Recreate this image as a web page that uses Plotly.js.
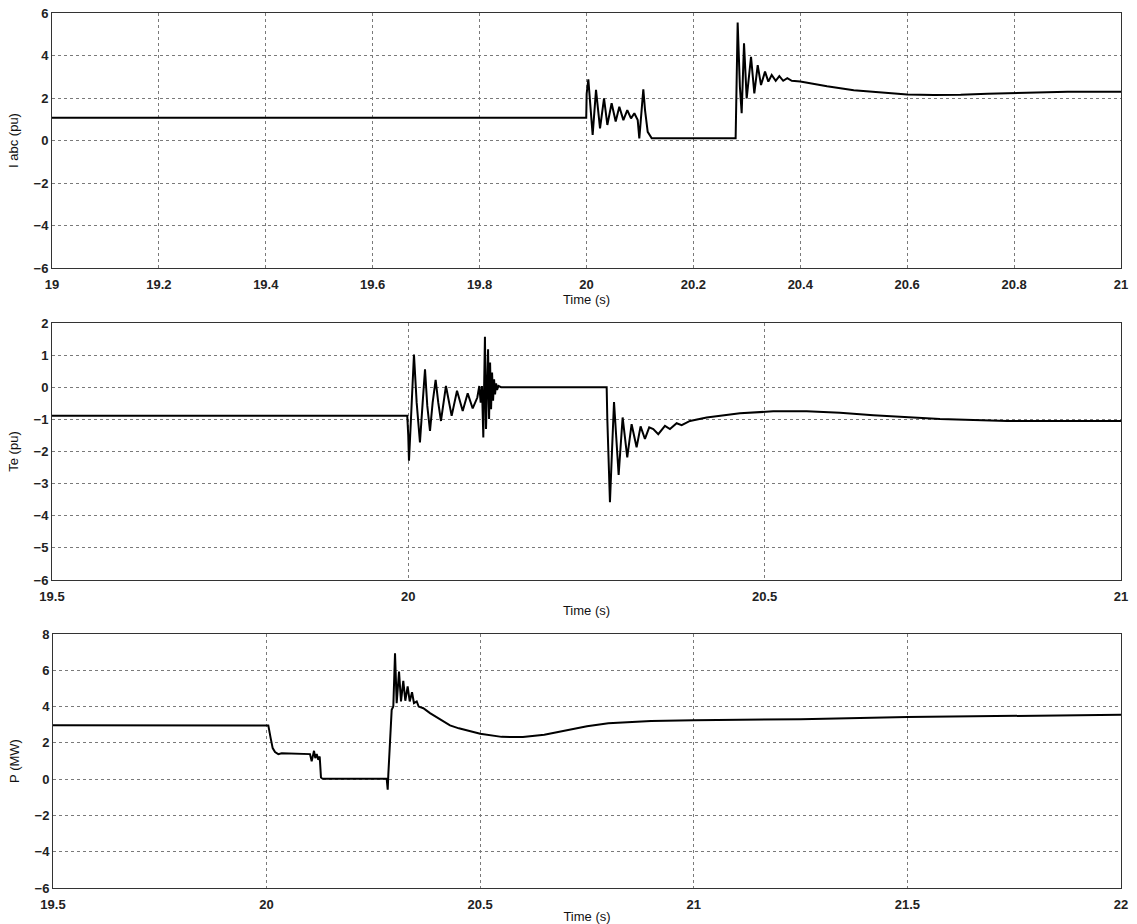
<!DOCTYPE html>
<html>
<head>
<meta charset="utf-8">
<script src="https://cdn.plot.ly/plotly-3.0.1.min.js"></script>
<style>html,body{margin:0;padding:0;background:#fff;}#chart{width:1137px;height:924px;}</style>
</head>
<body>
<div id="chart"></div>
<script>
// ---- Panel 1: phase current magnitude I abc (pu) ----
const iTime = [19, 19.9995, 20.0003, 20.0034, 20.0115, 20.0178, 20.0253, 20.0328, 20.039, 20.047, 20.0546, 20.0614, 20.069, 20.0763, 20.0833, 20.0895, 20.0958, 20.0988, 20.1063, 20.1095, 20.1145, 20.122,
  20.279, 20.2800, 20.2828, 20.287, 20.2903, 20.2947, 20.2997, 20.3078, 20.314, 20.3203, 20.3265, 20.334, 20.3402, 20.3465, 20.354, 20.3608, 20.368, 20.3757, 20.384,
  20.40, 20.437, 20.45, 20.5, 20.55, 20.6, 20.65, 20.7, 20.75, 20.8, 20.85, 20.9, 21.0];
const iValue = [1.07, 1.07, 2.2, 2.88, 0.26, 2.38, 0.57, 1.98, 0.73, 1.75, 0.89, 1.59, 0.96, 1.43, 1.04, 1.28, 0.96, 0.1, 2.41, 1.43, 0.41, 0.1,
  0.1, 2.06, 5.55, 2.53, 1.28, 4.57, 1.98, 3.94, 2.22, 3.55, 2.61, 3.24, 2.77, 3.08, 2.81, 3.03, 2.81, 2.93, 2.81,
  2.78, 2.62, 2.55, 2.37, 2.25, 2.16, 2.14, 2.15, 2.2, 2.24, 2.28, 2.29, 2.29];

// ---- Panel 2: electromagnetic torque Te (pu) ----
const teTime = [19.5, 19.9985, 19.9999, 20.0009, 20.0037, 20.0079, 20.0117, 20.0163, 20.0201, 20.0234, 20.0266, 20.0304, 20.0341, 20.0383, 20.042, 20.0458, 20.0528, 20.0608, 20.0683, 20.0763, 20.0833, 20.0903, 20.0968, 20.0996, 20.1015, 20.1033, 20.1052, 20.1075, 20.109,
  20.1119, 20.1133, 20.1147, 20.1161, 20.1175, 20.1189, 20.1203, 20.1217, 20.1231, 20.1245, 20.1264, 20.1301,
  20.2783, 20.2792, 20.2829, 20.2857, 20.2886, 20.2951, 20.3007, 20.3072, 20.3133, 20.3203, 20.3259, 20.332, 20.338,
  20.3437, 20.3507, 20.3601, 20.3671, 20.3765, 20.3835, 20.3952, 20.4186, 20.4653, 20.512, 20.559, 20.6057, 20.6524, 20.699, 20.746, 20.793, 20.84, 21.0];
const teValue = [-0.89, -0.89, -1.51, -2.29, -0.99, 1.02, -0.48, -1.72, -0.48, 0.56, -0.58, -1.36, -0.48, 0.23, -0.48, -1.05, 0.04, -0.89, -0.11, -0.74, -0.19, -0.66, -0.32, 0.04, -0.48, 0.04, -1.56, 1.57, -1.3,
  1.18, -0.99, 0.77, -0.68, 0.46, -0.42, 0.25, -0.22, 0.12, -0.08, 0.04, 0.0,
  0.0, -0.99, -3.58, -2.03, -0.46, -2.73, -0.94, -2.18, -1.15, -1.87, -1.22, -1.61, -1.25,
  -1.3, -1.46, -1.2, -1.3, -1.12, -1.18, -1.05, -0.94, -0.81, -0.75, -0.75, -0.79, -0.87, -0.94, -0.99, -1.02, -1.05, -1.05];

// ---- Panel 3: active power P (MW) ----
const pTime = [19.5, 20.004, 20.0095, 20.0142, 20.0197, 20.0274, 20.0353, 20.1016, 20.1055, 20.1079, 20.111, 20.114, 20.1173, 20.121, 20.1243, 20.1273, 20.1313,
  20.2811, 20.2835, 20.2849, 20.2889, 20.2928, 20.2966, 20.3006, 20.3045, 20.31, 20.3146, 20.32, 20.3247, 20.3302, 20.335, 20.3404, 20.345, 20.3514, 20.356, 20.3669, 20.3825, 20.3981, 20.4137, 20.4293,
  20.45, 20.5, 20.55, 20.6, 20.65, 20.7, 20.75, 20.8, 20.9, 21.0, 21.25, 21.5, 21.75, 22.0];
const pValue = [2.97, 2.96, 2.26, 1.71, 1.49, 1.38, 1.43, 1.38, 0.98, 1.25, 1.56, 1.16, 1.38, 1.07, 1.25, 0.09, 0.02,
  0.02, -0.58, 0.24, 2.26, 3.82, 4.0, 6.94, 4.19, 5.93, 4.28, 5.42, 4.32, 5.11, 4.28, 4.79, 4.19, 4.28, 4.0, 3.91, 3.64, 3.4, 3.18, 2.96,
  2.8, 2.5, 2.33, 2.32, 2.45, 2.7, 2.92, 3.08, 3.2, 3.25, 3.3, 3.42, 3.5, 3.55];

const xTitle = 'Time (s)';
const yTitles = ['I abc (pu)', 'Te (pu)', 'P (MW)'];

const W = 1137, H = 924;
const lineStyle = {color: '#000', width: 2};
const traces = [
  {x: iTime, y: iValue, xaxis: 'x', yaxis: 'y', mode: 'lines', line: lineStyle, hoverinfo: 'skip'},
  {x: teTime, y: teValue, xaxis: 'x2', yaxis: 'y2', mode: 'lines', line: lineStyle, hoverinfo: 'skip'},
  {x: pTime, y: pValue, xaxis: 'x3', yaxis: 'y3', mode: 'lines', line: lineStyle, hoverinfo: 'skip'}
];

const tickFont = {family: 'Liberation Sans, Arial, sans-serif', size: 13, color: '#222', weight: 'bold'};
const titleFont = {family: 'Liberation Sans, Arial, sans-serif', size: 13, color: '#111'};

function xa(range, dtick, domain, anchor) {
  return {
    range: range, dtick: dtick, tick0: range[0], domain: domain, anchor: anchor,
    showgrid: true, gridcolor: '#7a7a7a', gridwidth: 1, griddash: '3px,3px',
    zeroline: false, showline: true, mirror: true, linecolor: '#333', linewidth: 1,
    ticks: '', tickfont: tickFont, automargin: false, fixedrange: true, ticklabelstandoff: 4,
    title: {text: xTitle, font: titleFont, standoff: 3}
  };
}
function ya(range, dtick, domain, anchor, title) {
  return {
    range: range, dtick: dtick, tick0: range[0], domain: domain, anchor: anchor,
    showgrid: true, gridcolor: '#7a7a7a', gridwidth: 1, griddash: '3px,3px',
    zeroline: false, showline: true, mirror: true, linecolor: '#333', linewidth: 1,
    ticks: '', tickfont: tickFont, automargin: false, fixedrange: true,
    title: {text: title, font: titleFont, standoff: 12}
  };
}

const xd12 = [52 / W, 1121 / W];
const xd3 = [53 / W, 1121 / W];
const yd1 = [(H - 268) / H, (H - 13) / H];
const yd2 = [(H - 580) / H, (H - 323) / H];
const yd3 = [(H - 888) / H, (H - 634) / H];

const layout = {
  width: W, height: H,
  margin: {l: 0, r: 0, t: 0, b: 0},
  paper_bgcolor: '#fff', plot_bgcolor: '#fff',
  showlegend: false,
  xaxis: xa([19, 21], 0.2, xd12, 'y'),
  yaxis: ya([-6, 6], 2, yd1, 'x', yTitles[0]),
  xaxis2: xa([19.5, 21], 0.5, xd12, 'y2'),
  yaxis2: ya([-6, 2], 1, yd2, 'x2', yTitles[1]),
  xaxis3: xa([19.5, 22], 0.5, xd3, 'y3'),
  yaxis3: ya([-6, 8], 2, yd3, 'x3', yTitles[2])
};

Plotly.newPlot('chart', traces, layout, {displayModeBar: false, staticPlot: true});
</script>
</body>
</html>
